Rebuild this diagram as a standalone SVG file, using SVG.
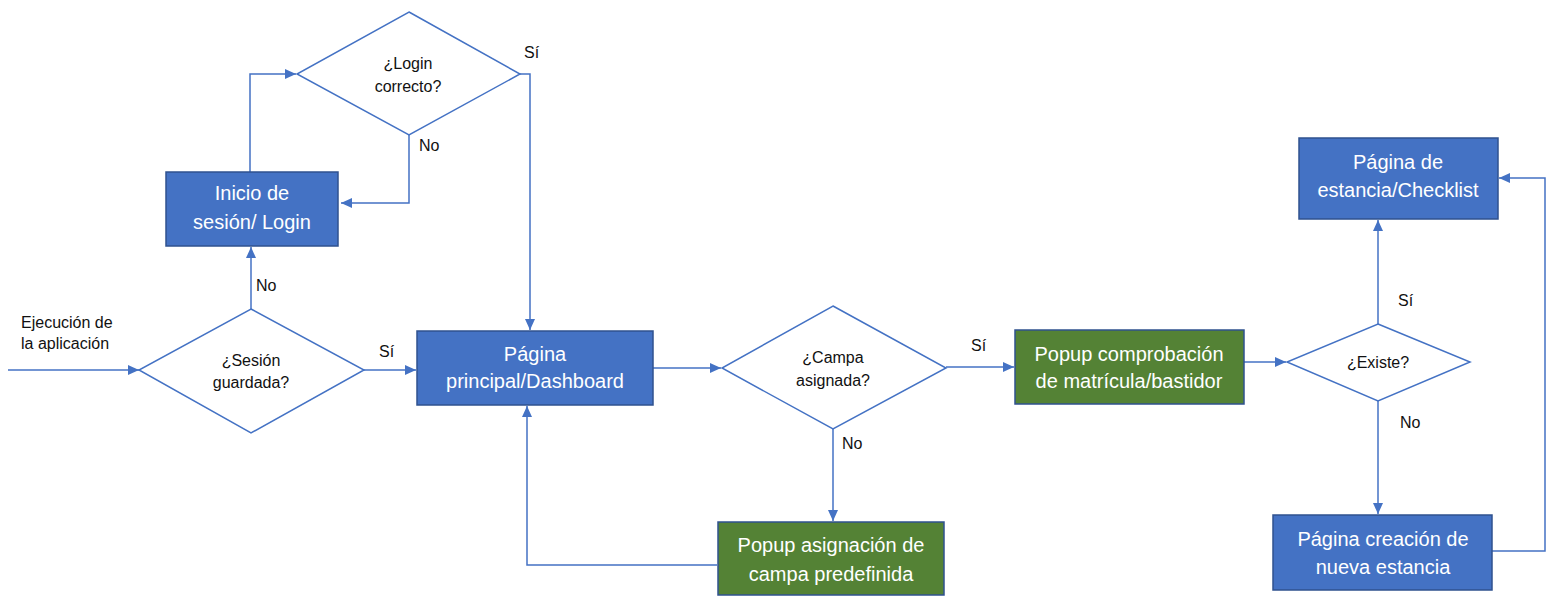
<svg xmlns="http://www.w3.org/2000/svg" width="1547" height="597" viewBox="0 0 1547 597">
<style>
.box{fill:#4472C4;stroke:#2F528F;stroke-width:1.5}
.gbox{fill:#548235;stroke:#2F528F;stroke-width:1.5}
.dia{fill:#ffffff;stroke:#4472C4;stroke-width:1.5}
.wt{font-family:"Liberation Sans",Arial,sans-serif;font-size:20px;fill:#ffffff;text-anchor:middle}
.bt{font-family:"Liberation Sans",Arial,sans-serif;font-size:16px;fill:#111111;text-anchor:middle}
.lt{font-family:"Liberation Sans",Arial,sans-serif;font-size:16px;fill:#111111}
.con{fill:none;stroke:#4472C4;stroke-width:1.5;marker-end:url(#arr)}
.line{fill:none;stroke:#4472C4;stroke-width:1.5}
</style>
<defs>
<marker id="arr" markerUnits="userSpaceOnUse" markerWidth="12" markerHeight="10" refX="11" refY="5" orient="auto">
<path d="M0,0 L11,5 L0,10 Z" fill="#4472C4"/>
</marker>
</defs>
<rect width="1547" height="597" fill="#ffffff"/>

<g id="connectors">
<path class="con" d="M8,370 L139,370"/>
<path class="con" d="M364,370 L416,370"/>
<path class="con" d="M251,309 L251,247"/>
<path class="con" d="M250,172 L250,74 L296,74"/>
<path class="con" d="M409,135 L409,203 L341,203"/>
<path class="con" d="M520,74 L530,74 L530,330"/>
<path class="con" d="M653,368 L721,368"/>
<path class="con" d="M946,367 L1014,367"/>
<path class="con" d="M833,429 L833,521"/>
<path class="con" d="M717,565 L527,565 L527,406"/>
<path class="con" d="M1244,362 L1286,362"/>
<path class="con" d="M1378,324 L1378,220"/>
<path class="con" d="M1378,401 L1378,514"/>
<path class="con" d="M1492,551 L1545,551 L1545,178 L1499,178"/>
</g>

<g id="labels">
<text class="lt" x="21" y="328">Ejecución de</text>
<text class="lt" x="21" y="349">la aplicación</text>
<text class="lt" x="379" y="357">Sí</text>
<text class="lt" x="256" y="291">No</text>
<text class="lt" x="524" y="58">Sí</text>
<text class="lt" x="419" y="151">No</text>
<text class="lt" x="971" y="351">Sí</text>
<text class="lt" x="842" y="449">No</text>
<text class="lt" x="1398" y="306">Sí</text>
<text class="lt" x="1400" y="428">No</text>
</g>

<g id="sesion-guardada">
<polygon class="dia" points="251,309 364,370 251,433 139,370"/>
<text class="bt" x="251" y="366">¿Sesión</text>
<text class="bt" x="251" y="388">guardada?</text>
</g>

<g id="login-correcto">
<polygon class="dia" points="409,12 520,74 409,135 297,74"/>
<text class="bt" x="408" y="69">¿Login</text>
<text class="bt" x="408" y="92">correcto?</text>
</g>

<g id="inicio-sesion">
<rect class="box" x="166" y="172" width="172" height="74"/>
<text class="wt" x="252" y="200">Inicio de</text>
<text class="wt" x="252" y="229">sesión/ Login</text>
</g>

<g id="dashboard">
<rect class="box" x="417" y="331" width="236" height="74"/>
<text class="wt" x="535" y="361">Página</text>
<text class="wt" x="535" y="388">principal/Dashboard</text>
</g>

<g id="campa-asignada">
<polygon class="dia" points="833,306 946,368 833,429 722,368"/>
<text class="bt" x="833" y="363">¿Campa</text>
<text class="bt" x="833" y="386">asignada?</text>
</g>

<g id="popup-asignacion">
<rect class="gbox" x="718" y="522" width="226" height="73"/>
<text class="wt" x="831" y="552">Popup asignación de</text>
<text class="wt" x="831" y="581">campa predefinida</text>
</g>

<g id="popup-comprobacion">
<rect class="gbox" x="1015" y="330" width="229" height="74"/>
<text class="wt" x="1129" y="361">Popup comprobación</text>
<text class="wt" x="1129" y="388">de matrícula/bastidor</text>
</g>

<g id="existe">
<polygon class="dia" points="1378,324 1470,362 1378,401 1287,362"/>
<text class="bt" x="1378" y="368">¿Existe?</text>
</g>

<g id="checklist">
<rect class="box" x="1299" y="138" width="199" height="81"/>
<text class="wt" x="1398" y="169">Página de</text>
<text class="wt" x="1398" y="197">estancia/Checklist</text>
</g>

<g id="nueva-estancia">
<rect class="box" x="1273" y="515" width="219" height="75"/>
<text class="wt" x="1383" y="546">Página creación de</text>
<text class="wt" x="1383" y="574">nueva estancia</text>
</g>
</svg>
